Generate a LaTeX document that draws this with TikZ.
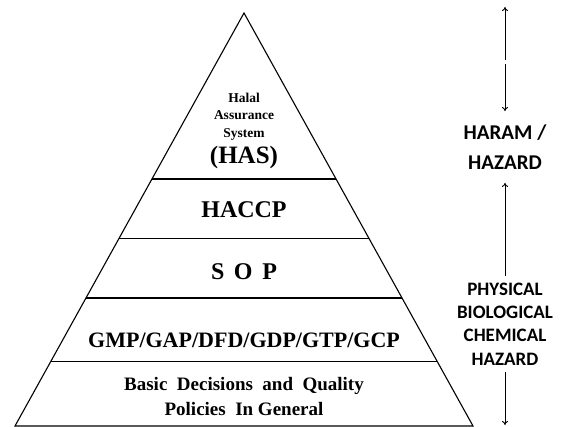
\documentclass[tikz,border=0pt]{standalone}
\usepackage{fontspec}
\setmainfont{Liberation Serif}
\newfontfamily\hazardfont{Carlito}
\usetikzlibrary{calc,arrows.meta}
\tikzset{
  layertext/.style args={#1/#2}{align=center, inner sep=0pt,
    font={\bfseries\fontsize{#1}{#2}\selectfont}},
  hazardtext/.style args={#1/#2}{align=center, inner xsep=0pt,
    font={\hazardfont\bfseries\fontsize{#1}{#2}\selectfont}},
  hazardarrow/.style={-{To[length=4pt,width=6pt]}, line width=0.9pt},
}
\begin{document}
\begin{tikzpicture}[x=1pt, y=-1pt, line width=1.1pt]
  \useasboundingbox (0,0) rectangle (563,427);

  % Pyramid
  \coordinate (apex) at (244,13);
  \coordinate (baseL) at (15,426);
  \coordinate (baseR) at (473,426);
  \draw (baseL) -- (apex) -- (baseR) -- cycle;

  % Layers
  \foreach \t in {0.402,0.547,0.690,0.843}
    \draw ($(apex)!\t!(baseL)$) -- ($(apex)!\t!(baseR)$);

  \node[layertext=13.5/17.5] (hasfull) at (244,116.5) {Halal\\Assurance\\System};
  \node[layertext=25/30] (has) at (244,157) {(HAS)};
  \node[layertext=24/28] (haccp) at (244,210) {HACCP};
  \node[layertext=24/28] (sop) at (244,272) {S\hspace{0.4em}O\hspace{0.4em}P};
  \node[layertext=22/26] (gmp) at (244,340) {GMP/GAP/DFD/GDP/GTP/GCP};
  \node[layertext=19/25] (basic) at (244,397)
    {\spaceskip=0.5em\relax Basic Decisions and Quality\\Policies\ \ In General};

  % Hazards
  \coordinate (arrowtop) at (505,7);
  \coordinate (gapup) at (505,60);
  \coordinate (gapdown) at (505,64);
  \coordinate (arrowbottom) at (505,425);
  \node[hazardtext=21/30, inner ysep=13pt] (haram) at (505,147) {HARAM /\\HAZARD};
  \node[hazardtext=19/23.3, inner ysep=6pt] (physical) at (505,324)
    {PHYSICAL\\BIOLOGICAL\\CHEMICAL\\HAZARD};

  \draw[hazardarrow] (gapup) -- (arrowtop);
  \draw[hazardarrow] (gapdown) -- (haram.north);
  \draw[hazardarrow] (physical.north) -- (haram.south);
  \draw[hazardarrow] (physical.south) -- (arrowbottom);
\end{tikzpicture}
\end{document}
